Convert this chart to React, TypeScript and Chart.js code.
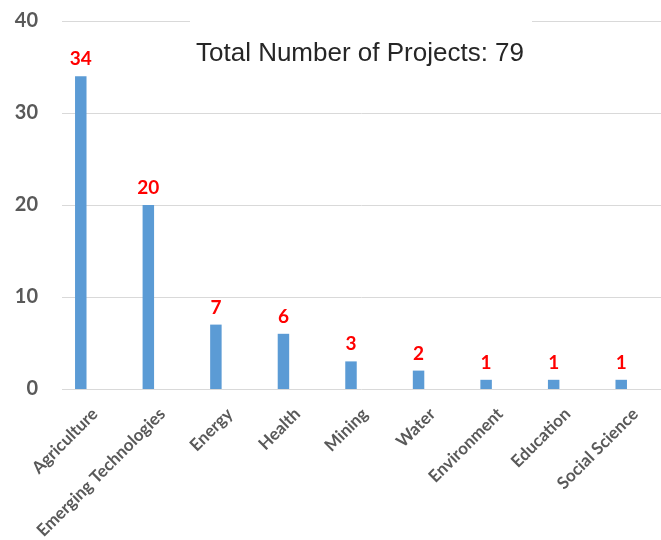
import React, { useEffect, useRef } from 'react';
import { Chart, registerables } from 'chart.js';

Chart.register(...registerables);

const categories = [
  'Agriculture',
  'Emerging Technologies',
  'Energy',
  'Health',
  'Mining',
  'Water',
  'Environment',
  'Education',
  'Social Science',
];
const projectCounts = [34, 20, 7, 6, 3, 2, 1, 1, 1];
const yTicks = [0, 10, 20, 30, 40];
const titleText = 'Total Number of Projects: 79';

const BAR_COLOR = '#5b9bd5';
const GRID_COLOR = '#d9d9d9';
const AXIS_TEXT = '#595959';
const LABEL_FONT = 'Lato, "Open Sans", sans-serif';

const backgroundPlugin = {
  id: 'gridAndTitle',
  beforeDatasetsDraw(chart: any) {
    const { ctx, scales } = chart;
    const y = scales.y;
    ctx.save();
    ctx.strokeStyle = GRID_COLOR;
    ctx.lineWidth = 1;
    const gridLeft = chart.chartArea.left + 15;
    yTicks.forEach((v) => {
      const py = Math.round(y.getPixelForValue(v)) + 0.5;
      ctx.beginPath();
      ctx.moveTo(gridLeft, py);
      ctx.lineTo(chart.width, py);
      ctx.stroke();
    });
    // title box with white background
    ctx.fillStyle = '#ffffff';
    ctx.fillRect(190, 8, 342, 62);
    ctx.fillStyle = '#262626';
    ctx.font = '26px "Liberation Sans", Arial, sans-serif';
    ctx.textAlign = 'center';
    ctx.textBaseline = 'alphabetic';
    ctx.fillText(titleText, 360, 61);
    ctx.restore();
  },
};

const dataLabelPlugin = {
  id: 'dataLabels',
  afterDatasetsDraw(chart: any) {
    const { ctx } = chart;
    const meta = chart.getDatasetMeta(0);
    ctx.save();
    ctx.fillStyle = '#ff0000';
    ctx.font = `bold 19px ${LABEL_FONT}`;
    ctx.textAlign = 'center';
    ctx.textBaseline = 'alphabetic';
    meta.data.forEach((bar: any, i: number) => {
      ctx.fillText(String(projectCounts[i]), bar.x, bar.y - 11);
    });
    ctx.restore();
  },
};

function BarChart() {
  const canvasRef = useRef<HTMLCanvasElement | null>(null);

  useEffect(() => {
    document.body.style.margin = '0';
    const canvas = canvasRef.current;
    if (!canvas) return;
    const chart = new Chart(canvas, {
      type: 'bar',
      data: {
        labels: categories,
        datasets: [
          {
            data: projectCounts,
            backgroundColor: BAR_COLOR,
            borderWidth: 0,
            categoryPercentage: 1,
            barPercentage: 0.17,
          },
        ],
      },
      options: {
        animation: false,
        responsive: true,
        maintainAspectRatio: false,
        layout: { padding: { top: 20, right: 6, left: 0, bottom: 0 } },
        plugins: {
          legend: { display: false },
          tooltip: { enabled: false },
          title: { display: false },
        },
        scales: {
          x: {
            grid: { display: false },
            border: { display: false },
            ticks: {
              autoSkip: false,
              maxRotation: 45,
              minRotation: 45,
              labelOffset: 14,
              padding: 7,
              color: AXIS_TEXT,
              font: { family: LABEL_FONT, size: 17, weight: 'bold' },
            },
            afterFit(scale: any) {
              scale.height = 151;
            },
          },
          y: {
            min: 0,
            max: 40,
            grid: { display: false, drawTicks: false },
            border: { display: false },
            ticks: {
              stepSize: 10,
              padding: 9,
              color: AXIS_TEXT,
              font: { family: LABEL_FONT, size: 20, weight: 'bold' },
            },
            afterFit(scale: any) {
              scale.width = 47;
            },
          },
        },
      },
      plugins: [backgroundPlugin, dataLabelPlugin],
    });
    return () => chart.destroy();
  }, []);

  return (
    <div style={{ position: 'relative', width: 661, height: 540, background: '#fff' }}>
      <canvas ref={canvasRef} />
    </div>
  );
}

export default function App() {
  return <BarChart />;
}
